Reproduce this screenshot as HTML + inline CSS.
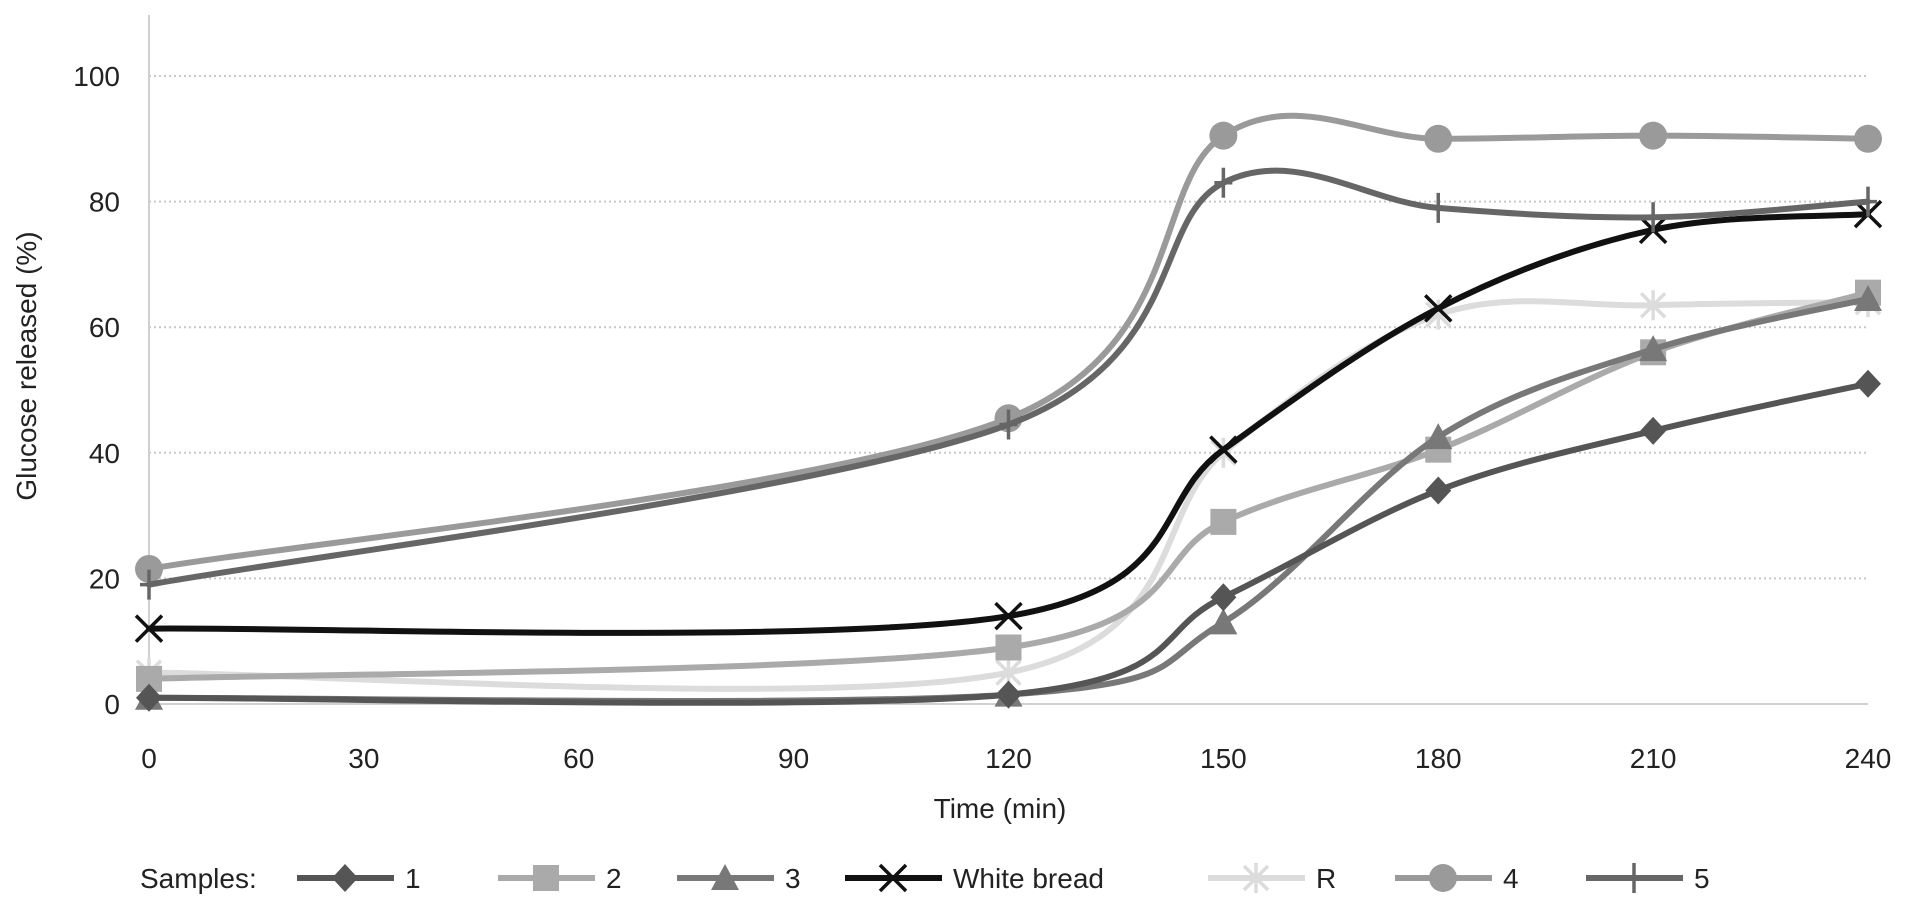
<!DOCTYPE html>
<html><head><meta charset="utf-8"><style>
html,body{margin:0;padding:0;background:#fff;}
svg{display:block;font-family:"Liberation Sans",Arial,sans-serif;}
</style></head><body>
<svg id="chart" width="1913" height="914">
<g id="grid"></g>
<g id="axes"></g>
<g id="series"></g>
<g id="legend"></g>
</svg>
<script>
const times = [0, 120, 150, 180, 210, 240];
const xTicks = [0, 30, 60, 90, 120, 150, 180, 210, 240];
const yTicks = [0, 20, 40, 60, 80, 100];
const s1 = [1, 1.5, 17, 34, 43.5, 51];
const s2 = [4, 9, 29, 40.5, 56, 65.5];
const s3 = [1, 1.5, 13, 42.5, 56.5, 64.5];
const sWB = [12, 14, 40.5, 63, 75.5, 78];
const sR = [5, 5, 40, 62, 63.5, 64];
const s4 = [21.5, 45.5, 90.5, 90, 90.5, 90];
const s5 = [19, 44.5, 83, 79, 77.5, 80];
const seriesNames = ["1", "2", "3", "White bread", "R", "4", "5"];

const NS = "http://www.w3.org/2000/svg";
const X0 = 149, X1 = 1868, Y0 = 704, Y100 = 76;
const xs = t => X0 + (X1 - X0) * t / 240;
const ys = v => Y0 - (Y0 - Y100) * v / 100;
function mk(tag, attrs, parent) { const e = document.createElementNS(NS, tag); for (const k in attrs) e.setAttribute(k, attrs[k]); parent.appendChild(e); return e; }
const FS = 28;
const grid = document.getElementById('grid'), axes = document.getElementById('axes');
yTicks.forEach(v => {
  if (v > 0) {
    const l = mk('line', {x1: X0, x2: X1, y1: ys(v), y2: ys(v), stroke: '#c8c8c8', 'stroke-width': 2, 'stroke-dasharray': '2 3'}, grid);
    
    
  }
  const t = mk('text', {x: 120, y: ys(v) + 10, 'text-anchor': 'end', 'font-size': FS, fill: '#222'}, axes);
  t.textContent = v;
  
  
});
const base = mk('line', {x1: X0, x2: X1, y1: Y0, y2: Y0, stroke: '#d0d0d0', 'stroke-width': 2}, axes);


const yl = mk('line', {x1: X0, x2: X0, y1: 15, y2: Y0, stroke: '#d0d0d0', 'stroke-width': 2}, axes);


xTicks.forEach(t => {
  const e = mk('text', {x: xs(t), y: 768, 'text-anchor': 'middle', 'font-size': FS, fill: '#222'}, axes);
  e.textContent = t;
  
  
});
const xt = mk('text', {x: 1000, y: 818, 'text-anchor': 'middle', 'font-size': FS, fill: '#222'}, axes);
xt.textContent = 'Time (min)';


const yt = mk('text', {x: 0, y: 0, 'text-anchor': 'middle', 'font-size': FS, fill: '#222', transform: 'translate(36,366) rotate(-90)'}, axes);
yt.textContent = 'Glucose released (%)';



function smoothPath(pts) {
  let d = 'M' + pts[0][0] + ',' + pts[0][1];
  for (let i = 0; i < pts.length - 1; i++) {
    const p0 = pts[i - 1] || pts[i], p1 = pts[i], p2 = pts[i + 1], p3 = pts[i + 2] || p2;
    const c1 = [p1[0] + (p2[0] - p0[0]) / 6, p1[1] + (p2[1] - p0[1]) / 6];
    const c2 = [p2[0] - (p3[0] - p1[0]) / 6, p2[1] - (p3[1] - p1[1]) / 6];
    d += ' C' + c1 + ' ' + c2 + ' ' + p2;
  }
  return d;
}
function marker(kind, x, y, col, parent) {
  const r = 13;
  if (kind === 'diamond') return mk('path', {d: `M${x},${y - r - 1}L${x + r},${y}L${x},${y + r + 1}L${x - r},${y}Z`, fill: col}, parent);
  if (kind === 'square') return mk('rect', {x: x - 13, y: y - 13, width: 26, height: 26, fill: col}, parent);
  if (kind === 'triangle') return mk('path', {d: `M${x},${y - 14}L${x + 14},${y + 12}L${x - 14},${y + 12}Z`, fill: col}, parent);
  if (kind === 'circle') return mk('circle', {cx: x, cy: y, r: 14, fill: col}, parent);
  if (kind === 'x') return mk('path', {d: `M${x - 13},${y - 13}L${x + 13},${y + 13}M${x + 13},${y - 13}L${x - 13},${y + 13}`, stroke: col, 'stroke-width': 3.5}, parent);
  if (kind === 'star') return mk('path', {d: `M${x - 12},${y - 12}L${x + 12},${y + 12}M${x + 12},${y - 12}L${x - 12},${y + 12}M${x},${y - 15}V${y + 15}`, stroke: col, 'stroke-width': 3.5}, parent);
  if (kind === 'plus') return mk('path', {d: `M${x},${y - 15}V${y + 15}M${x - 9},${y}H${x + 9}`, stroke: col, 'stroke-width': 3.5}, parent);
}
const seriesData = [s1, s2, s3, sWB, sR, s4, s5];
const colors = ['#555555', '#aaaaaa', '#787878', '#111111', '#dcdcdc', '#9a9a9a', '#666666'];
const markers = ['diamond', 'square', 'triangle', 'x', 'star', 'circle', 'plus'];
const order = [4, 1, 2, 0, 3, 5, 6];
const sg = document.getElementById('series');
order.forEach(i => {
  const g = mk('g', {}, sg);
  
  
  const pts = seriesData[i].map((v, k) => [xs(times[k]), ys(v)]);
  const p = mk('path', {d: smoothPath(pts), fill: 'none', stroke: colors[i], 'stroke-width': 6, 'stroke-linecap': 'round'}, g);
  
  
  pts.forEach(pt => {
    const m = marker(markers[i], pt[0], pt[1], colors[i], g);
    
    
  });
});
const lg = document.getElementById('legend');
const ly = 878;
const lt = mk('text', {x: 140, y: ly + 10, 'font-size': FS, fill: '#222'}, lg);
lt.textContent = 'Samples:';


const legX = [297, 498, 677, 845, 1208, 1395, 1586];
legX.forEach((lx, i) => {
  const g = mk('g', {}, lg);
  
  
  mk('line', {x1: lx, x2: lx + 97, y1: ly, y2: ly, stroke: colors[i], 'stroke-width': 6}, g);
  marker(markers[i], lx + 48, ly, colors[i], g);
  const t = mk('text', {x: lx + 108, y: ly + 10, 'font-size': FS, fill: '#222'}, g);
  t.textContent = seriesNames[i];
});
</script>
</body></html>
